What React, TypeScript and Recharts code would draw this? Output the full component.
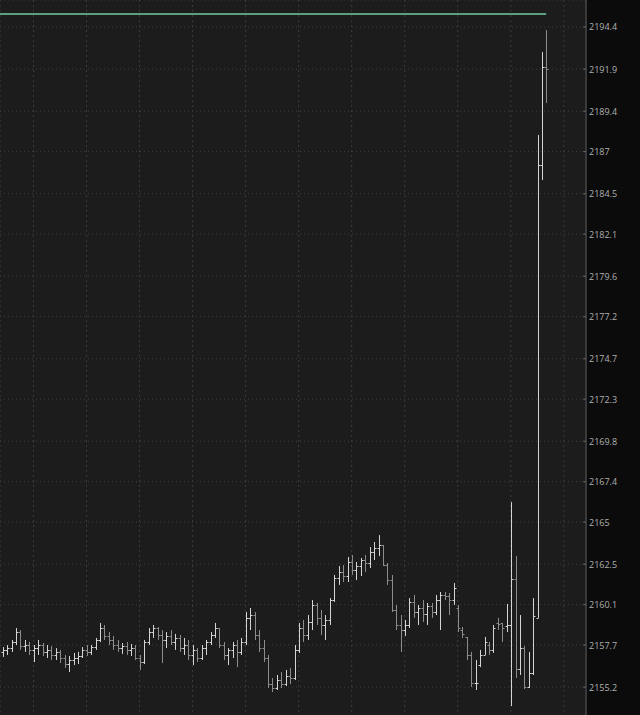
import React from 'react';
import { ComposedChart, Bar, XAxis, YAxis, CartesianGrid, ReferenceLine } from 'recharts';

// one entry per bar, oldest first
const OPEN = [
  2157.29, 2157.41, 2157.52, 2157.88, 2158.47, 2157.64, 2157.70, 2157.41, 2157.52, 2157.70,
  2157.29, 2157.41, 2157.11, 2157.29, 2156.93, 2156.57, 2156.81, 2156.93, 2157.05, 2157.41,
  2157.29, 2157.58, 2158.00, 2158.71, 2158.24, 2158.00, 2157.70, 2157.52, 2157.64, 2157.41,
  2157.52, 2156.93, 2156.69, 2157.88, 2158.47, 2158.71, 2158.30, 2158.00, 2158.24, 2157.88,
  2158.12, 2157.52, 2157.70, 2157.11, 2157.41, 2156.93, 2157.52, 2157.88, 2158.30, 2158.71,
  2157.70, 2157.11, 2157.41, 2157.70, 2157.29, 2157.88, 2159.31, 2159.48, 2158.30, 2157.52,
  2156.93, 2155.38, 2155.15, 2155.62, 2155.38, 2155.86, 2155.74, 2157.41, 2158.71, 2158.30,
  2159.07, 2160.08, 2159.31, 2158.89, 2159.19, 2160.37, 2161.68, 2162.04, 2161.80, 2162.63,
  2162.16, 2162.39, 2162.75, 2162.57, 2163.22, 2163.46, 2163.64, 2162.45, 2161.56, 2159.78,
  2158.89, 2158.59, 2158.89, 2160.26, 2159.66, 2159.90, 2159.54, 2160.02, 2159.66, 2160.37,
  2160.67, 2160.61, 2160.37, 2159.90, 2158.59, 2158.18, 2157.11, 2155.45, 2156.51, 2157.11,
  2157.70, 2157.41, 2159.01, 2159.01, 2158.83, 2158.89, 2161.62, 2156.28, 2157.52, 2155.21,
  2156.04, 2159.31, 2186.20, 2192.02,
];
const HIGH = [
  2157.58, 2157.70, 2158.00, 2158.71, 2158.59, 2158.00, 2157.88, 2157.70, 2158.00, 2157.82,
  2157.70, 2157.64, 2157.52, 2157.41, 2157.11, 2157.05, 2157.23, 2157.29, 2157.58, 2157.70,
  2157.70, 2158.12, 2159.01, 2158.89, 2158.47, 2158.24, 2158.00, 2157.82, 2157.88, 2157.76,
  2157.70, 2157.11, 2158.00, 2158.71, 2158.89, 2158.77, 2158.59, 2158.47, 2158.59, 2158.36,
  2158.30, 2158.12, 2158.00, 2157.70, 2157.52, 2157.70, 2158.00, 2158.47, 2159.01, 2158.71,
  2157.88, 2157.52, 2157.88, 2158.00, 2158.12, 2159.66, 2159.90, 2159.66, 2158.59, 2158.00,
  2157.11, 2155.74, 2155.92, 2156.10, 2156.22, 2156.34, 2157.70, 2159.01, 2159.19, 2159.48,
  2160.37, 2160.20, 2159.78, 2159.48, 2160.49, 2161.86, 2162.39, 2162.45, 2162.93, 2163.05,
  2162.63, 2162.87, 2163.05, 2163.52, 2163.82, 2164.23, 2163.64, 2162.57, 2161.86, 2160.08,
  2159.48, 2159.19, 2160.49, 2160.67, 2160.08, 2160.37, 2160.20, 2160.20, 2160.67, 2160.85,
  2160.85, 2160.79, 2161.38, 2160.08, 2158.77, 2158.18, 2157.29, 2156.81, 2157.41, 2158.18,
  2157.88, 2158.89, 2159.31, 2159.01, 2160.14, 2166.19, 2162.98, 2159.48, 2157.64, 2157.29,
  2160.49, 2187.99, 2192.91, 2194.22,
];
const LOW = [
  2156.99, 2157.11, 2157.29, 2157.70, 2157.41, 2157.29, 2157.11, 2156.69, 2157.11, 2157.05,
  2156.93, 2156.81, 2156.81, 2156.63, 2156.34, 2156.10, 2156.51, 2156.57, 2156.93, 2157.05,
  2157.11, 2157.41, 2157.88, 2158.00, 2157.70, 2157.41, 2157.29, 2157.17, 2157.11, 2157.05,
  2156.81, 2156.22, 2156.57, 2157.70, 2158.12, 2158.00, 2156.63, 2157.52, 2157.70, 2157.41,
  2157.29, 2157.11, 2156.81, 2156.51, 2156.69, 2156.81, 2157.11, 2157.70, 2158.12, 2157.52,
  2156.81, 2156.51, 2156.93, 2156.39, 2157.11, 2157.70, 2158.59, 2158.00, 2157.29, 2156.69,
  2155.15, 2154.91, 2155.03, 2155.15, 2155.27, 2155.38, 2155.62, 2157.23, 2157.88, 2158.00,
  2158.59, 2158.89, 2158.30, 2158.00, 2158.89, 2160.26, 2161.27, 2161.44, 2161.44, 2161.86,
  2161.56, 2161.80, 2162.04, 2162.27, 2162.75, 2162.98, 2162.39, 2161.27, 2159.66, 2158.59,
  2157.29, 2158.24, 2158.71, 2159.31, 2158.89, 2159.07, 2158.89, 2159.31, 2159.48, 2158.59,
  2160.37, 2159.48, 2160.08, 2158.47, 2158.12, 2156.81, 2155.21, 2155.03, 2156.39, 2157.11,
  2157.11, 2157.23, 2158.59, 2157.88, 2158.47, 2154.08, 2155.74, 2155.92, 2155.09, 2155.15,
  2155.92, 2159.31, 2185.31, 2189.89,
];
const CLOSE = [
  2157.41, 2157.52, 2157.88, 2158.47, 2157.64, 2157.70, 2157.41, 2157.52, 2157.70, 2157.29,
  2157.41, 2157.11, 2157.29, 2156.93, 2156.57, 2156.81, 2156.93, 2157.05, 2157.41, 2157.29,
  2157.58, 2158.00, 2158.71, 2158.24, 2158.00, 2157.70, 2157.52, 2157.64, 2157.41, 2157.52,
  2156.93, 2156.69, 2157.88, 2158.47, 2158.71, 2158.30, 2158.00, 2158.24, 2157.88, 2158.12,
  2157.52, 2157.70, 2157.11, 2157.41, 2156.93, 2157.52, 2157.88, 2158.30, 2158.71, 2157.70,
  2157.11, 2157.41, 2157.70, 2157.29, 2157.88, 2159.31, 2159.48, 2158.30, 2157.52, 2156.93,
  2155.38, 2155.15, 2155.62, 2155.38, 2155.86, 2155.74, 2157.41, 2158.71, 2158.30, 2159.07,
  2160.08, 2159.31, 2158.89, 2159.19, 2160.37, 2161.68, 2162.04, 2161.80, 2162.63, 2162.16,
  2162.39, 2162.75, 2162.57, 2163.22, 2163.46, 2163.64, 2162.45, 2161.56, 2159.78, 2158.89,
  2158.59, 2158.89, 2160.26, 2159.66, 2159.90, 2159.54, 2160.02, 2159.66, 2160.37, 2160.67,
  2160.61, 2160.37, 2161.09, 2158.71, 2158.36, 2157.11, 2155.45, 2155.45, 2157.11, 2157.88,
  2157.41, 2158.71, 2158.95, 2158.71, 2158.89, 2161.62, 2156.28, 2157.52, 2155.21, 2156.04,
  2159.42, 2186.20, 2192.02, 2191.90,
];

const PRICE_TICKS = [
  2155.2, 2157.7, 2160.1, 2162.5, 2165, 2167.4, 2169.8, 2172.3, 2174.7,
  2177.2, 2179.6, 2182.1, 2184.5, 2187, 2189.4, 2191.9, 2194.4,
];
// bar indexes where the time grid lines fall
const GRID_BARS = [7, 19, 31, 43, 55, 67, 79, 91, 103, 115, 127];
const MARKER_PRICE = 2195.17;

const X_DOMAIN = [-0.57, 132.01];
const Y_DOMAIN = [2153.545, 2196.003];

const data = OPEN.map((o, i) => ({
  i,
  open: o,
  high: HIGH[i],
  low: LOW[i],
  close: CLOSE[i],
  range: [LOW[i], HIGH[i]],
}));

const renderOhlc = (props: any) => {
  const { x, y, width, height, payload } = props;
  if (x == null || y == null || !payload) return <g />;
  const top = Math.min(y, y + height);
  const h = Math.abs(height);
  const span = payload.high - payload.low;
  const k = span > 0 ? h / span : 0;
  const cx = Math.round(x + width / 2) + 0.5;
  const yo = Math.round(top + (payload.high - payload.open) * k) + 0.5;
  const yc = Math.round(top + (payload.high - payload.close) * k) + 0.5;
  const color = payload.close >= payload.open ? '#d4d4d4' : '#8c8c8c';
  return (
    <g>
      <line x1={cx} x2={cx} y1={top} y2={top + Math.max(h, 1)} stroke={color} />
      <line x1={cx - 2} x2={cx} y1={yo} y2={yo} stroke={color} />
      <line x1={cx} x2={cx + 2} y1={yc} y2={yc} stroke={color} />
    </g>
  );
};

const PriceTick = (props: any) => {
  const { x, y, payload } = props;
  return (
    <g>
      <line x1={x - 3} x2={x} y1={y} y2={y} stroke="#666" />
      <text x={x + 3} y={y} dy={3.5} fill="#b0b0b0" fontSize={9} fontFamily="'Open Sans', sans-serif">
        {payload.value}
      </text>
    </g>
  );
};

export default function App() {
  return (
    <div style={{ position: 'absolute', left: 0, top: 0, width: 640, height: 715, background: '#0b0b0b' }}>
      <ComposedChart width={640} height={715} data={data} margin={{ top: 0, right: 0, bottom: 0, left: 0 }}>
        <CartesianGrid fill="#1c1c1c" vertical={false} stroke="#3c3c3c" strokeDasharray="1 3" />
        <CartesianGrid horizontal={false} stroke="#3c3c3c" strokeDasharray="2 3" />
        <XAxis
          type="number"
          dataKey="i"
          domain={X_DOMAIN}
          allowDataOverflow
          ticks={GRID_BARS}
          interval={0}
          orientation="top"
          height={0}
          mirror
          tickSize={5}
          tickLine={{ stroke: '#555' }}
          axisLine={false}
          tickFormatter={() => ''}
        />
        <YAxis
          orientation="right"
          type="number"
          domain={Y_DOMAIN}
          allowDataOverflow
          ticks={PRICE_TICKS}
          interval={0}
          width={54}
          tickSize={0}
          tickMargin={0}
          tickLine={false}
          tick={<PriceTick />}
          axisLine={{ stroke: '#3a3a3a', strokeWidth: 2 }}
        />
        <ReferenceLine
          segment={[{ x: X_DOMAIN[0], y: MARKER_PRICE }, { x: data.length - 1, y: MARKER_PRICE }]}
          stroke="#5f9f80"
          strokeWidth={2}
        />
        <Bar dataKey="range" barSize={3} shape={renderOhlc} isAnimationActive={false} />
      </ComposedChart>
    </div>
  );
}
